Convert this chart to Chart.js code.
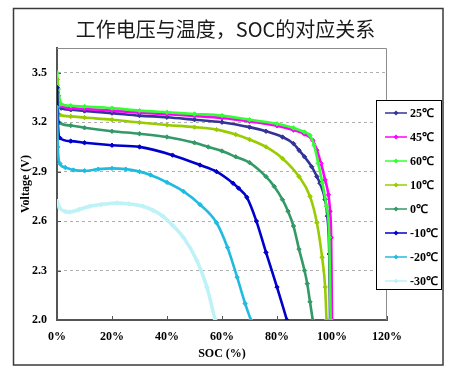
<!DOCTYPE html>
<html><head><meta charset="utf-8">
<script src="https://cdn.jsdelivr.net/npm/chart.js@4"></script>
<style>html,body{margin:0;padding:0;background:#fff}</style>
</head><body>
<canvas id="c" width="451" height="371"></canvas>
<script>
// ---- data ----
const seriesLabels = ['25℃','45℃','60℃','10℃','0℃','-10℃','-20℃','-30℃'];
const seriesColors = ['#333399','#FF00FF','#33FF33','#99CC00','#339966','#0000CC','#22BBE0','#BDF2F7'];
const xTickValues = [0,20,40,60,80,100,120];
const yTickValues = [2.0,2.3,2.6,2.9,3.2,3.5];

const soc25 = [0,0.5,1.5,5,10,20,30,40,50,60,70,76,82,86,88,90,92.6,94.5,95.6,97.5,98.3,99,99.3];
const v25   = [3.42,3.33,3.285,3.275,3.268,3.255,3.24,3.23,3.215,3.2,3.17,3.145,3.11,3.07,3.03,2.99,2.93,2.87,2.83,2.73,2.63,2.4,2.0];

const soc45 = [0,0.5,1.5,5,10,20,30,40,50,60,70,80,86,90,93,94.5,96,97.5,98.7,99.3,99.7,100];
const v45   = [3.46,3.36,3.3,3.285,3.28,3.27,3.258,3.248,3.238,3.226,3.205,3.178,3.152,3.128,3.09,3.03,2.95,2.85,2.76,2.66,2.5,2.0];

const soc60 = [0,0.5,1.5,5,10,20,30,40,50,60,70,80,86,90,92,93.5,95,96.5,98,99,99.5];
const v60   = [3.5,3.4,3.31,3.3,3.295,3.285,3.27,3.26,3.25,3.24,3.215,3.19,3.165,3.14,3.12,3.06,2.95,2.83,2.69,2.5,2.0];

const soc10 = [0,0.3,1,5,10,20,30,40,50,58,65,70,76,82,88,92,94.5,96.4,97.5,98];
const v10   = [3.46,3.3,3.245,3.235,3.228,3.215,3.198,3.183,3.17,3.155,3.125,3.095,3.05,2.98,2.87,2.75,2.59,2.38,2.2,2.0];

const soc0  = [0,0.3,1,5,10,20,30,40,50,55,60,65,70,76,79,82,84,86,88,90,91,92,93];
const v0    = [3.38,3.25,3.196,3.18,3.166,3.145,3.13,3.11,3.075,3.05,3.025,2.99,2.955,2.87,2.81,2.73,2.66,2.57,2.43,2.3,2.22,2.11,2.0];

const socM10 = [0,0.3,1,5,10,20,30,42,52,58,64,66,69,72.5,76,80,83.6];
const vM10   = [3.41,3.2,3.105,3.085,3.075,3.06,3.05,3.0,2.94,2.9,2.83,2.8,2.745,2.6,2.41,2.2,2.0];

const socM20 = [0,0.3,1,3,6,10,15,20,25,30,34,40,46,52,58,62,65.5,68.4,70.5];
const vM20   = [3.29,3.05,2.95,2.925,2.91,2.905,2.915,2.92,2.915,2.9,2.88,2.835,2.78,2.7,2.59,2.44,2.26,2.1,2.0];

const socM30 = [0,1,3,4.7,8,12,16,21.8,26,31.3,35,38.5,42,46,50.9,54.5,57.5];
const vM30   = [2.72,2.68,2.658,2.655,2.67,2.69,2.7,2.71,2.705,2.69,2.665,2.63,2.575,2.5,2.36,2.2,2.0];

const socSeries = [soc25,soc45,soc60,soc10,soc0,socM10,socM20,socM30];
const voltSeries = [v25,v45,v60,v10,v0,vM10,vM20,vM30];

const serif = '"Liberation Serif", "Times New Roman", serif';

const datasets = seriesLabels.map((lab,i)=>({
  label: lab,
  data: socSeries[i].map((s,k)=>({x:s,y:voltSeries[i][k]})),
  borderColor: seriesColors[i],
  backgroundColor: seriesColors[i],
  borderWidth: i===7 ? 3.5 : 2.6,
  pointStyle: 'rectRot',
  pointRadius: 2.2,
  pointBorderWidth: 1,
  cubicInterpolationMode: 'monotone',
  order: -i
}));

const deco = {
  id: 'deco',
  beforeDraw(chart){
    const c = chart.ctx;
    c.save();
    c.fillStyle = '#fff'; c.fillRect(0,0,chart.width,chart.height);
    c.strokeStyle = '#3a3a3a'; c.lineWidth = 1.5;
    c.strokeRect(13.5,8.5,429.5,356.5);
    c.restore();
  },
  beforeDatasetsDraw(chart){
    const {ctx, chartArea:a} = chart;
    ctx.save();
    ctx.strokeStyle = '#8c8c8c'; ctx.lineWidth = 1;
    ctx.beginPath();
    ctx.moveTo(a.left, a.top+0.5); ctx.lineTo(a.right-0.5, a.top+0.5); ctx.lineTo(a.right-0.5, a.bottom);
    ctx.stroke();
    const xs = chart.scales.x, ys = chart.scales.y;
    ctx.strokeStyle = '#555';
    xs.ticks.forEach(t=>{
      const px = Math.round(xs.getPixelForValue(t.value))+0.5;
      ctx.beginPath(); ctx.moveTo(px,a.bottom); ctx.lineTo(px,a.bottom-4); ctx.stroke();
    });
    ys.ticks.forEach(t=>{
      const py = Math.round(ys.getPixelForValue(t.value))+0.5;
      ctx.beginPath(); ctx.moveTo(a.left,py); ctx.lineTo(a.left+4,py); ctx.stroke();
    });
    ctx.restore();
  },
  afterDraw(chart){
    const ctx = chart.ctx;
    ctx.save();
    ctx.fillStyle = '#fff';
    ctx.fillRect(376,100,66,190);
    ctx.strokeStyle = '#000'; ctx.lineWidth = 1;
    ctx.strokeRect(376.5,100.5,65,189);
    ctx.font = 'bold 12px ' + serif;
    ctx.textBaseline = 'middle';
    chart.data.datasets.forEach((ds,i)=>{
      const y = 113 + i*24;
      ctx.strokeStyle = ds.borderColor; ctx.lineWidth = 1.5;
      ctx.beginPath(); ctx.moveTo(385,y); ctx.lineTo(407,y); ctx.stroke();
      ctx.fillStyle = ds.borderColor;
      ctx.beginPath(); ctx.moveTo(396,y-2.5); ctx.lineTo(398.5,y); ctx.lineTo(396,y+2.5); ctx.lineTo(393.5,y); ctx.closePath(); ctx.fill();
      ctx.fillStyle = '#000';
      ctx.fillText(ds.label, 410, y+0.5);
    });
    ctx.restore();
  }
};

new Chart(document.getElementById('c'), {
  type: 'line',
  data: { datasets },
  plugins: [deco],
  options: {
    responsive: false,
    animation: false,
    devicePixelRatio: 1,
    layout: { padding: { top: 8, left: 0, right: 0, bottom: 0 } },
    plugins: {
      legend: { display: false },
      tooltip: { enabled: false },
      title: {
        display: true,
        text: '工作电压与温度，SOC的对应关系',
        color: '#1a1a1a',
        font: { family: '"Noto Sans CJK SC", "Noto Sans", sans-serif', size: 20, weight: 'normal' },
        padding: { top: 9, bottom: 7 }
      }
    },
    scales: {
      x: {
        type: 'linear', min: 0, max: 120,
        afterBuildTicks(s){ s.ticks = xTickValues.map(v=>({value:v})); },
        afterFit(s){ s.height = 51; },
        grid: { display: false, drawTicks: false },
        border: { display: true, color: '#555', width: 2 },
        ticks: { padding: 10, color: '#000', font: { family: serif, size: 12, weight: 'bold' }, callback: v => v + '%' },
        title: { display: true, text: 'SOC (%)', color: '#000', font: { family: serif, size: 12, weight: 'bold' }, padding: { top: 0, bottom: 10 } }
      },
      y: {
        type: 'linear', min: 2.0, max: 3.65,
        afterBuildTicks(s){ s.ticks = yTickValues.map(v=>({value:v})); },
        afterFit(s){ s.width = 57; },
        grid: { display: true, drawTicks: false, color: '#b0b0b0', lineWidth: 1 },
        border: { display: true, color: '#555', width: 2, dash: [3,3] },
        ticks: { padding: 10, color: '#000', font: { family: serif, size: 12, weight: 'bold' }, callback: v => Number(v).toFixed(1) },
        title: { display: true, text: 'Voltage (V)', color: '#000', font: { family: serif, size: 12, weight: 'bold' }, padding: { top: 19, bottom: 0 } }
      },
      yR: {
        type: 'linear', position: 'right', display: true,
        afterFit(s){ s.width = 64; },
        grid: { display: false, drawTicks: false },
        border: { display: false },
        ticks: { display: false }
      }
    }
  }
});
</script>
</body></html>
